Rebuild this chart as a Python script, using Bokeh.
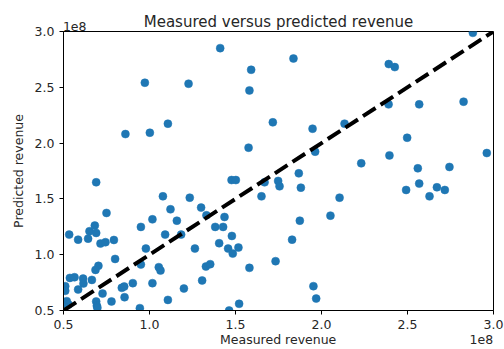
from bokeh.plotting import figure
from bokeh.models import Range1d, FixedTicker, NumeralTickFormatter, LinearAxis, ColumnDataSource
from bokeh.embed import file_html
from bokeh.resources import INLINE

# Values in units of 1e8
measured = [1.411, 1.837, 2.880, 0.973, 1.227, 1.591, 1.581, 2.391, 2.426, 2.390,
            2.568, 2.826, 0.860, 1.002, 1.107, 1.717, 2.134, 1.948, 1.576, 2.498,
            1.963, 2.395, 2.961, 2.231, 2.560, 2.744, 0.690, 1.477, 1.502, 1.669,
            1.748, 1.756, 1.868, 1.880, 2.568, 2.492, 2.671, 2.717, 2.628, 2.105,
            1.651, 1.078, 1.234, 1.300, 1.122, 1.331, 1.436, 1.159, 1.017, 0.750,
            2.052, 1.874, 1.382, 1.428, 0.950, 0.682, 0.651, 0.690, 0.533, 0.585,
            0.643, 0.715, 0.744, 0.793, 1.091, 1.184, 1.829, 1.405, 1.479, 1.457,
            1.484, 1.517, 1.264, 0.979, 0.800, 1.733, 0.950, 1.328, 1.353, 1.054,
            1.064, 1.581, 0.703, 0.686, 0.537, 0.564, 0.614, 0.665, 0.616, 0.585,
            0.510, 0.510, 0.727, 0.903, 0.839, 0.853, 0.855, 0.779, 1.017, 1.200,
            1.306, 1.953, 1.969, 1.107, 0.690, 0.694, 0.697, 0.519, 0.529, 0.504,
            0.944, 1.521, 1.463]
predicted = [2.851, 2.758, 2.988, 2.541, 2.532, 2.657, 2.472, 2.708, 2.681, 2.347,
             2.347, 2.371, 2.081, 2.093, 2.174, 2.186, 2.174, 2.129, 1.959, 2.048,
             1.923, 1.890, 1.911, 1.819, 1.774, 1.786, 1.649, 1.669, 1.669, 1.649,
             1.661, 1.613, 1.729, 1.601, 1.637, 1.580, 1.604, 1.580, 1.523, 1.511,
             1.523, 1.523, 1.511, 1.422, 1.407, 1.353, 1.338, 1.305, 1.317, 1.374,
             1.350, 1.305, 1.249, 1.249, 1.249, 1.261, 1.210, 1.195, 1.180, 1.135,
             1.144, 1.100, 1.112, 1.132, 1.180, 1.180, 1.135, 1.103, 1.168, 1.055,
             1.010, 1.064, 1.055, 1.055, 0.962, 0.942, 0.912, 0.894, 0.915, 0.888,
             0.858, 0.882, 0.900, 0.864, 0.792, 0.798, 0.786, 0.774, 0.742, 0.688,
             0.718, 0.676, 0.652, 0.745, 0.703, 0.715, 0.619, 0.581, 0.745, 0.697,
             0.769, 0.718, 0.607, 0.595, 0.581, 0.542, 0.524, 0.584, 0.554, 0.536,
             0.521, 0.560, 0.500]
ideal = [0.5, 3.0]
ticks = [0.5, 1.0, 1.5, 2.0, 2.5, 3.0]

title_text = "Measured versus predicted revenue"
x_label = "Measured revenue"
y_label = "Predicted revenue"
offset_text = "1e8"

FONT = "DejaVu Sans"
TXT = "#262626"

p = figure(width=504, height=349, output_backend="svg", toolbar_location=None,
           x_range=Range1d(0.5, 3.0), y_range=Range1d(0.5, 3.0),
           min_border_left=63, min_border_right=11, min_border_top=31, min_border_bottom=39)

p.grid.visible = False
p.outline_line_color = "black"
p.outline_line_width = 1
p.outline_line_alpha = 1.0


def style(ax, size="12.5px"):
    ax.minor_tick_line_color = None
    ax.major_tick_in = 0
    ax.major_label_text_font = FONT
    ax.major_label_text_font_size = size
    ax.major_label_text_color = TXT
    ax.axis_label_text_font = FONT
    ax.axis_label_text_font_size = "12.5px"
    ax.axis_label_text_font_style = "normal"
    ax.axis_label_text_color = TXT


for ax in (p.xaxis[0], p.yaxis[0]):
    ax.ticker = FixedTicker(ticks=ticks)
    ax.formatter = NumeralTickFormatter(format="0.0")
    style(ax)
    ax.major_tick_out = 4
    ax.major_tick_line_color = "black"
    ax.axis_line_color = "black"

p.xaxis[0].major_label_standoff = 5
p.yaxis[0].axis_label = y_label
p.yaxis[0].major_label_standoff = 5
p.yaxis[0].axis_label_standoff = 6

# second row below the x axis: axis label and offset text
x_lab_pos = 1.748
x_off_pos = 2.929
ax2 = LinearAxis(ticker=FixedTicker(ticks=[x_lab_pos, x_off_pos]),
                 major_label_overrides={x_lab_pos: x_label, x_off_pos: offset_text})
style(ax2)
ax2.major_tick_out = 0
ax2.major_tick_line_color = None
ax2.axis_line_color = None
ax2.major_label_standoff = 0
p.add_layout(ax2, "below")

# rows above: offset text then title
top_off_pos = 0.565
ax3 = LinearAxis(ticker=FixedTicker(ticks=[top_off_pos]),
                 major_label_overrides={top_off_pos: offset_text})
style(ax3)
ax3.major_tick_out = 0
ax3.major_tick_line_color = None
ax3.axis_line_color = None
ax3.major_label_standoff = 1
p.add_layout(ax3, "above")

title_pos = 1.75
ax4 = LinearAxis(ticker=FixedTicker(ticks=[title_pos]),
                 major_label_overrides={title_pos: title_text})
style(ax4, "15px")
ax4.major_tick_out = 0
ax4.major_tick_line_color = None
ax4.axis_line_color = None
ax4.major_label_standoff = -12
p.add_layout(ax4, "above")

src = ColumnDataSource(dict(x=measured, y=predicted))
p.scatter("x", "y", source=src, size=8, fill_color="#1f77b4", line_color="#1f77b4",
          line_width=0.5)
p.line(ideal, ideal, line_color="black", line_width=4, line_dash="15 6")

open("out.html", "w").write(file_html(p, INLINE))
